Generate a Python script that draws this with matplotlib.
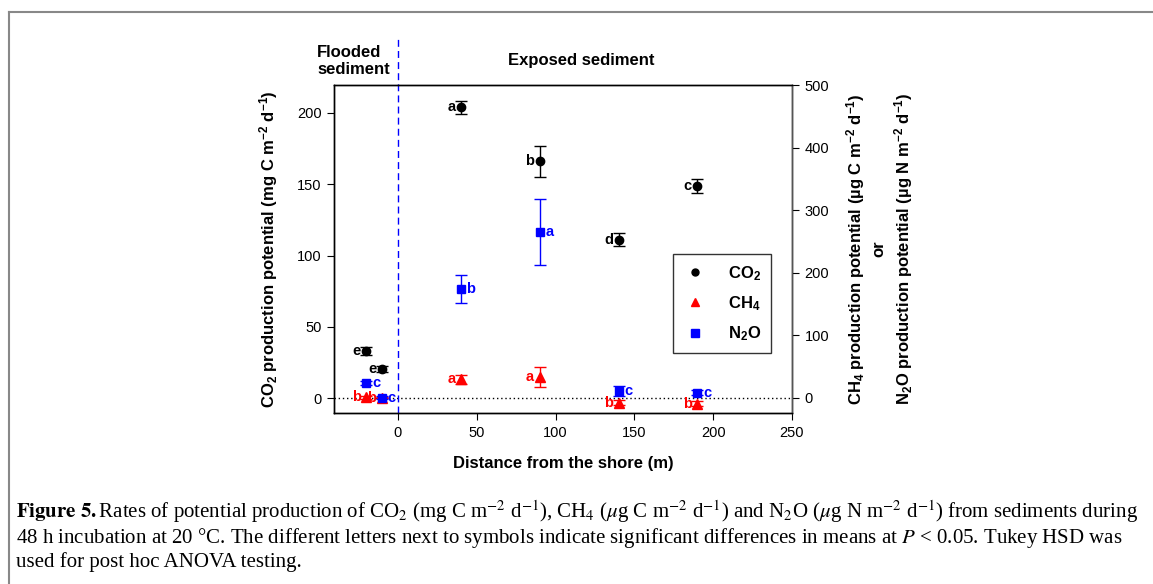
import matplotlib
matplotlib.use("Agg")
import matplotlib.pyplot as plt
from matplotlib.lines import Line2D

plt.rcParams["font.family"] = ["Liberation Sans", "DejaVu Sans"]
plt.rcParams["mathtext.fontset"] = "custom"
plt.rcParams["mathtext.rm"] = "Liberation Sans"
plt.rcParams["mathtext.bf"] = "Liberation Sans:bold"
plt.rcParams["mathtext.it"] = "Liberation Sans:italic"

# --------------------------------------------------------
# Data
# --------------------------------------------------------
distance = [-20, -10, 40, 90, 140, 190]

co2 = [33, 20.5, 204, 166, 111, 149]
co2_err = [3, 2, 4.5, 11, 4.5, 5]
co2_letters = ["e", "e", "a", "b", "d", "c"]

ch4 = [1, 0.5, 30, 33, -8, -9]
ch4_err = [2, 1, 7, 16, 4, 4]
ch4_letters = ["b", "b", "a", "a", "b", "b"]

n2o = [24, 0.5, 174, 265, 11, 8]
n2o_err = [3, 2, 22, 53, 8, 4]
n2o_letters = ["c", "c", "b", "a", "c", "c"]

x_ticks = [0, 50, 100, 150, 200, 250]
co2_ticks = [0, 50, 100, 150, 200]
right_ticks = [0, 100, 200, 300, 400, 500]

# --------------------------------------------------------
# Figure
# --------------------------------------------------------
fig = plt.figure(figsize=(11.53, 5.84), dpi=100)
ax = fig.add_axes([0.2897, 0.2928, 0.3972, 0.5616])
ax2 = ax.twinx()

ax.set_xlim(-40.5, 250)
ax.set_ylim(-10.5, 219.6)
ax2.set_ylim(-24, 500)

# reference lines
ax.axhline(0, color="black", linestyle=(0, (1, 2)), linewidth=1)
ax.plot([0, 0], [-10.5, 253], color="blue", linestyle=(0, (5, 3)), linewidth=1, clip_on=False)

# CO2 on left axis
ax.errorbar(distance, co2, yerr=co2_err, fmt="o", color="black", markersize=6,
            capsize=4, elinewidth=1, capthick=1, zorder=3)
# CH4 and N2O on right axis
ax2.errorbar(distance, ch4, yerr=ch4_err, fmt="^", color="red", markersize=7,
             capsize=4, elinewidth=1, capthick=1, zorder=3)
ax2.errorbar(distance, n2o, yerr=n2o_err, fmt="s", color="blue", markersize=6,
             capsize=4, elinewidth=1, capthick=1, zorder=4)

# significance letters
for xi, yi, lab in zip(distance, co2, co2_letters):
    ax.annotate(lab, (xi, yi), xytext=(-4, 0), textcoords="offset points",
                ha="right", va="center", fontsize=10.5, fontweight="bold", color="black")
for xi, yi, lab in zip(distance, ch4, ch4_letters):
    ax2.annotate(lab, (xi, yi), xytext=(-4, 0), textcoords="offset points",
                 ha="right", va="center", fontsize=10.5, fontweight="bold", color="red")
for xi, yi, lab in zip(distance, n2o, n2o_letters):
    ax2.annotate(lab, (xi, yi), xytext=(4, 0), textcoords="offset points",
                 ha="left", va="center", fontsize=10.5, fontweight="bold", color="blue")

# ticks
ax.set_xticks(x_ticks)
ax.set_yticks(co2_ticks)
ax2.set_yticks(right_ticks)
ax.tick_params(axis="both", direction="out", length=5, labelsize=10.5, pad=4)
ax2.tick_params(axis="y", direction="out", length=5, labelsize=10.5, pad=4)
for a in (ax, ax2):
    for s in a.spines.values():
        s.set_linewidth(1)
ax2.spines["right"].set_color("#555555")

# axis labels
ax.set_xlabel("Distance from the shore (m)", fontsize=12, fontweight="bold", labelpad=12)
ax.set_ylabel(r"CO$_\mathbf{2}$ production potential (mg C m$^\mathbf{-2}$ d$^\mathbf{-1}$)",
              fontsize=12, fontweight="bold", labelpad=12)
ax2.set_ylabel("CH$_\\mathbf{4}$ production potential (\u00b5g C m$^\\mathbf{-2}$ d$^\\mathbf{-1}$)\n"
               "or\n"
               "N$_\\mathbf{2}$O production potential (\u00b5g N m$^\\mathbf{-2}$ d$^\\mathbf{-1}$)",
               fontsize=12, fontweight="bold", labelpad=11, linespacing=1.35,
               multialignment="center")

# region labels
fig.text(317 / 1153, 1 - 61 / 584, "Flooded\nsediment", ha="left", va="center",
         fontsize=12, fontweight="bold", linespacing=1.2)
fig.text(581 / 1153, 1 - 61 / 584, "Exposed sediment", ha="center", va="center",
         fontsize=12, fontweight="bold")

# legend
handles = [
    Line2D([], [], marker="o", color="black", linestyle="none", markersize=5),
    Line2D([], [], marker="^", color="red", linestyle="none", markersize=6),
    Line2D([], [], marker="s", color="blue", linestyle="none", markersize=6),
]
labels = [r"CO$_\mathbf{2}$", r"CH$_\mathbf{4}$", r"N$_\mathbf{2}$O"]
leg = ax2.legend(handles, labels, loc="upper left", bbox_to_anchor=(0.74, 0.485),
                 frameon=True, fancybox=False, edgecolor="black",
                 prop={"weight": "bold", "size": 12}, handletextpad=1.2,
                 labelspacing=0.7, borderpad=0.6, handlelength=1.5, borderaxespad=0)
leg.get_frame().set_linewidth(1)

# outer frame (partly cropped in reference)
fig.add_artist(Line2D([9 / 1153, 1], [1 - 12 / 584, 1 - 12 / 584], color="#888888", linewidth=1.5))
fig.add_artist(Line2D([9 / 1153, 9 / 1153], [0, 1 - 12 / 584], color="#888888", linewidth=1.5))

# caption
cap_kw = dict(fontsize=15, family=["Liberation Serif", "DejaVu Serif"], math_fontfamily="stix",
              ha="left", va="baseline")
fig.text(16 / 1153, 1 - 518 / 584,
         r"$\mathbf{Figure\ 5.}$Rates of potential production of CO$_2$ (mg C m$^{-2}$ d$^{-1}$), "
         r"CH$_4$ ($\mu$g C m$^{-2}$ d$^{-1}$) and N$_2$O ($\mu$g N m$^{-2}$ d$^{-1}$) from sediments during",
         **cap_kw)
fig.text(16 / 1153, 1 - 543 / 584,
         "48 h incubation at 20 \u00b0C. The different letters next to symbols indicate significant "
         r"differences in means at $P$ < 0.05. Tukey HSD was", **cap_kw)
fig.text(16 / 1153, 1 - 567 / 584, "used for post hoc ANOVA testing.", **cap_kw)

fig.savefig("out.png", dpi=100)
